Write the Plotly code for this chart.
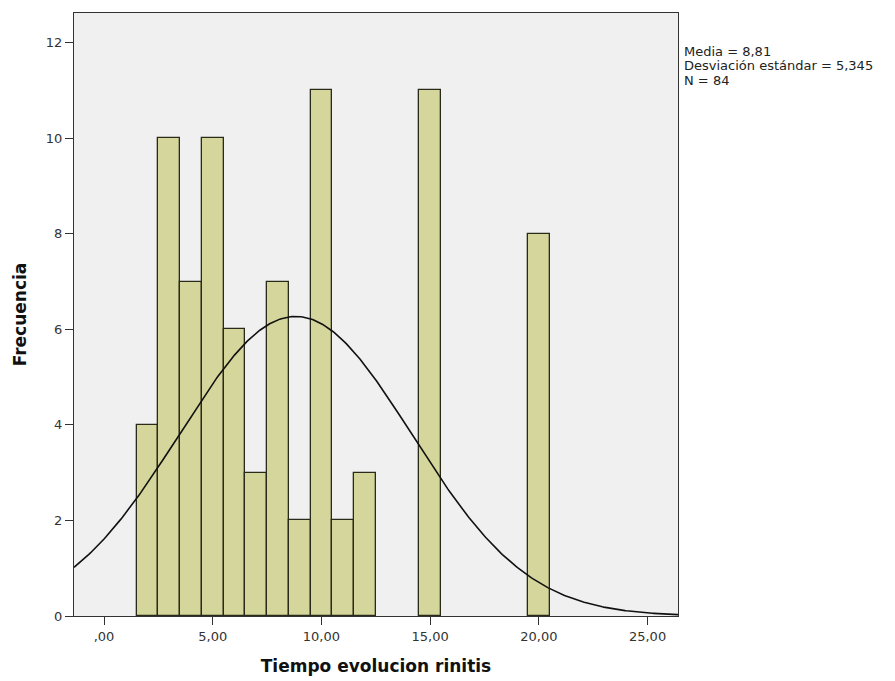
import numpy as np
import plotly.graph_objects as go

# Data
bin_centers = [2, 3, 4, 5, 6, 7, 8, 9, 10, 11, 12, 15, 20]
frequencies = [4, 10, 7, 10, 6, 3, 7, 2, 11, 2, 3, 11, 8]
media = 8.81
desviacion = 5.345
n_total = 84
bin_width = 1.0

x_tick_vals = [0, 5, 10, 15, 20, 25]
x_tick_text = [",00", "5,00", "10,00", "15,00", "20,00", "25,00"]
y_tick_vals = [0, 2, 4, 6, 8, 10, 12]
y_tick_text = ["0", "2", "4", "6", "8", "10", "12"]

x_range = [-1.38, 26.4]
y_range = [0, 12.62]

# Normal curve from the reported statistics
xc = np.linspace(x_range[0], x_range[1], 400)
yc = n_total * bin_width / (desviacion * np.sqrt(2 * np.pi)) * np.exp(-0.5 * ((xc - media) / desviacion) ** 2)

fig = go.Figure()
fig.add_trace(go.Bar(
    x=bin_centers, y=frequencies, width=bin_width,
    marker=dict(color="#d5d69b", line=dict(color="#2a2a1a", width=1.3)),
    showlegend=False,
))
fig.add_trace(go.Scatter(
    x=xc, y=yc, mode="lines",
    line=dict(color="#111111", width=1.6),
    showlegend=False,
))

tick_font = dict(family="DejaVu Sans, sans-serif", size=13, color="#333333")
title_font = dict(family="DejaVu Sans, sans-serif", size=17, color="#111111")

fig.update_layout(
    width=887, height=673,
    margin=dict(l=66, r=217, t=5, b=65),
    paper_bgcolor="white",
    plot_bgcolor="#f0f0f0",
    bargap=0,
    xaxis=dict(
        range=x_range, tickmode="array", tickvals=x_tick_vals, ticktext=x_tick_text,
        showgrid=False, zeroline=False, showline=True, linecolor="#333333", linewidth=1.2,
        mirror=True, ticks="outside", ticklen=8, tickcolor="#333333", tickfont=tick_font,
        title=dict(text="<b>Tiempo evolucion rinitis</b>", font=title_font, standoff=17),
    ),
    yaxis=dict(
        range=y_range, tickmode="array", tickvals=y_tick_vals, ticktext=y_tick_text,
        showgrid=False, zeroline=False, showline=True, linecolor="#333333", linewidth=1.2,
        mirror=True, ticks="outside", ticklen=8, tickcolor="#333333", tickfont=tick_font,
        title=dict(text="<b>Frecuencia</b>", font=title_font, standoff=14),
    ),
)

stat_lines = [
    f"Media = {str(media).replace('.', ',')}",
    f"Desviación estándar = {str(desviacion).replace('.', ',')}",
    f"N = {n_total}",
]
stat_y = [0.936, 0.913, 0.888]
for txt, yy in zip(stat_lines, stat_y):
    fig.add_annotation(
        xref="paper", yref="paper", x=1.0, xshift=4, y=yy, xanchor="left", yanchor="middle",
        text=txt, showarrow=False, align="left",
        font=dict(family="DejaVu Sans, sans-serif", size=13, color="#222222"),
    )

fig.write_html("out.html")
